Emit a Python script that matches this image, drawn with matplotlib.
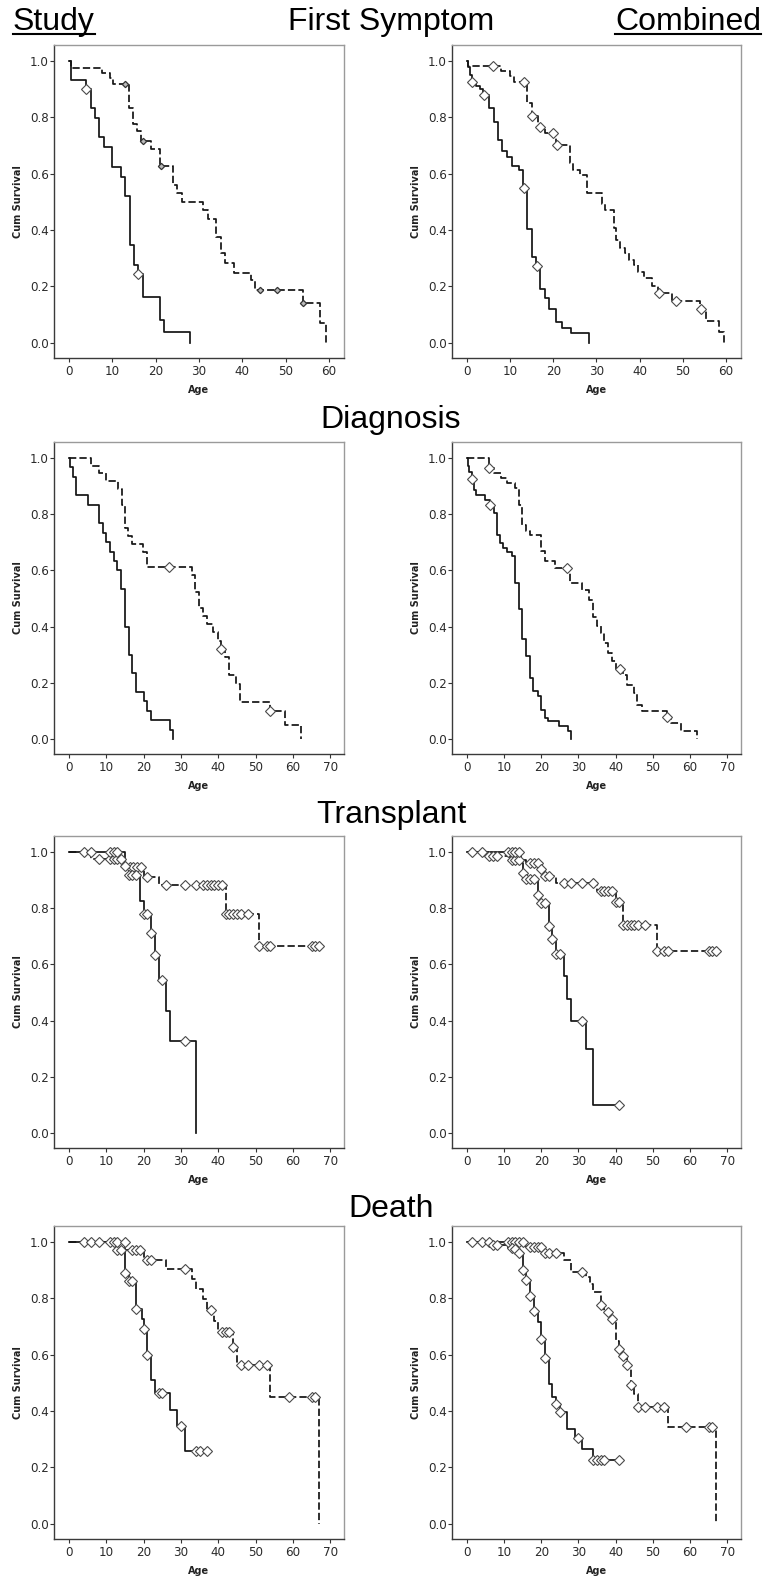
import numpy as np
import matplotlib
matplotlib.use('Agg')
import matplotlib.pyplot as plt
from matplotlib.lines import Line2D
from matplotlib.ticker import FormatStrFormatter

# ---------------- data (age, cumulative survival after step, censor ages) ----------------
# First Symptom - Study
fs_study_solid_t = [0.5, 4, 5, 6, 7, 8, 10, 12, 13, 14, 15, 16, 17, 21, 22, 28]
fs_study_solid_s = [0.933, 0.900, 0.833, 0.797, 0.730, 0.694, 0.623, 0.590, 0.520, 0.347,
                    0.277, 0.243, 0.162, 0.081, 0.040, 0.0]
fs_study_solid_c = [4, 16]
fs_study_dash_t = [0.5, 7.7, 9.5, 10.2, 13.9, 14.8, 15.6, 16.5, 19, 21, 24, 25, 26, 31, 32,
                   34, 35, 36, 38, 42, 43, 54, 58, 59.3]
fs_study_dash_s = [0.974, 0.958, 0.940, 0.917, 0.833, 0.778, 0.750, 0.716, 0.687, 0.628, 0.560,
                   0.530, 0.500, 0.470, 0.440, 0.377, 0.318, 0.283, 0.249, 0.223, 0.188, 0.141,
                   0.070, 0.0]
fs_study_dash_c = [12.9, 17, 21.2, 44, 48, 54]

# First Symptom - Combined
fs_comb_solid_t = [0.3, 0.7, 1.1, 2, 3, 3.8, 5, 6.2, 7.2, 8.2, 9.3, 10.3, 12, 13, 14, 15, 16,
                   17, 18, 19, 20.5, 22, 24, 28.2]
fs_comb_solid_s = [0.980, 0.950, 0.927, 0.910, 0.900, 0.880, 0.832, 0.785, 0.720, 0.679, 0.660,
                   0.629, 0.613, 0.548, 0.403, 0.306, 0.274, 0.190, 0.158, 0.120, 0.075, 0.052,
                   0.034, 0.0]
fs_comb_solid_c = [1.2, 3.9, 13.1, 16.1]
fs_comb_dash_t = [0.3, 7.8, 10, 10.8, 14, 15, 16.5, 18, 20.5, 23.8, 24.6, 26.2, 27.9, 31.2, 32,
                  34, 34.6, 35.5, 36.7, 37.5, 38.7, 39.7, 41, 42.9, 44.2, 47.5, 54, 55.3, 58.4,
                  59.5]
fs_comb_dash_s = [0.982, 0.965, 0.947, 0.924, 0.850, 0.806, 0.765, 0.746, 0.702, 0.637, 0.613,
                  0.596, 0.530, 0.493, 0.472, 0.407, 0.365, 0.336, 0.318, 0.294, 0.277, 0.253,
                  0.229, 0.200, 0.176, 0.150, 0.120, 0.076, 0.040, 0.0]
fs_comb_dash_c = [6, 13.1, 15, 16.8, 19.8, 20.9, 44.4, 48.4, 54.2]

# Diagnosis - Study
dx_study_solid_t = [0.3, 1, 2, 5, 8, 9, 10, 11, 12, 13, 14, 15, 16, 17, 18, 20, 21, 22, 27, 28]
dx_study_solid_s = [0.967, 0.933, 0.867, 0.833, 0.767, 0.733, 0.700, 0.667, 0.633, 0.600, 0.533,
                    0.400, 0.300, 0.233, 0.167, 0.133, 0.100, 0.067, 0.033, 0.0]
dx_study_solid_c = []
dx_study_dash_t = [5.8, 8.1, 9.9, 13.2, 14.1, 15, 15.9, 16.8, 19.9, 20.8, 32.9, 33.8, 34.9, 36,
                   36.9, 38.7, 40, 40.8, 41.8, 42.9, 44.7, 45.8, 53.9, 57.9, 62.2]
dx_study_dash_s = [0.972, 0.946, 0.918, 0.889, 0.833, 0.750, 0.722, 0.694, 0.667, 0.611, 0.582,
                   0.524, 0.466, 0.437, 0.408, 0.379, 0.350, 0.321, 0.292, 0.226, 0.194, 0.131,
                   0.098, 0.049, 0.0]
dx_study_dash_c = [26.9, 40.8, 53.9]

# Diagnosis - Combined
dx_comb_solid_t = [0.3, 0.7, 1.3, 2, 2.5, 4.9, 6.1, 7.2, 8.1, 9, 9.8, 10.9, 12.1, 13, 13.9, 14.8,
                   15.9, 17, 17.9, 19, 19.9, 21, 21.9, 24.9, 27.1, 28]
dx_comb_solid_s = [0.970, 0.950, 0.926, 0.887, 0.869, 0.852, 0.834, 0.804, 0.727, 0.697, 0.680,
                   0.664, 0.650, 0.555, 0.463, 0.356, 0.294, 0.217, 0.170, 0.152, 0.104, 0.075,
                   0.063, 0.045, 0.027, 0.0]
dx_comb_solid_c = [1.3, 6.1]
dx_comb_dash_t = [6, 7.2, 9.1, 10.9, 13, 13.9, 14.8, 15.9, 17, 19.9, 21, 23.7, 27.8, 31, 32.9,
                  34, 34.9, 36, 36.9, 38, 38.9, 40, 42, 43, 44.8, 45.8, 47, 53.8, 55, 57.7, 62]
dx_comb_dash_s = [0.964, 0.947, 0.930, 0.911, 0.893, 0.834, 0.763, 0.739, 0.727, 0.668, 0.632,
                  0.609, 0.555, 0.531, 0.496, 0.434, 0.401, 0.377, 0.342, 0.306, 0.277, 0.247,
                  0.229, 0.190, 0.164, 0.122, 0.098, 0.078, 0.057, 0.027, 0.0]
dx_comb_dash_c = [6, 26.9, 41.2, 53.9]

# Transplant - Study
tx_study_solid_t = [15, 16, 19, 20, 22, 23, 24, 26, 27, 34]
tx_study_solid_s = [0.950, 0.917, 0.825, 0.778, 0.713, 0.635, 0.544, 0.435, 0.326, 0.0]
tx_study_solid_c = [4, 6, 11, 12, 13, 15, 16, 17, 18, 20, 21, 22, 23, 25, 31]
tx_study_dash_t = [6, 15, 20, 24, 42, 51]
tx_study_dash_s = [0.976, 0.947, 0.910, 0.882, 0.778, 0.665]
tx_study_dash_c = [8, 11, 12, 13, 14, 16.3, 17.3, 18.3, 19.2, 21, 26, 31, 34, 36, 37, 38, 39,
                   40, 41, 42, 43, 44, 45, 46, 48, 51, 53, 54, 65, 66, 67]

# Transplant - Combined
tx_comb_solid_t = [14.6, 15, 16, 19, 20, 22, 23, 24, 26, 27, 28, 32, 34]
tx_comb_solid_s = [0.960, 0.925, 0.903, 0.846, 0.818, 0.736, 0.690, 0.637, 0.560, 0.477, 0.400,
                   0.298, 0.100]
tx_comb_solid_c = [11, 12, 13, 14, 15, 16, 17, 18, 19, 20, 21, 22, 23, 24, 25, 31, 41]
tx_comb_dash_t = [6, 11.5, 16, 20, 21, 24, 35, 40, 42, 51]
tx_comb_dash_s = [0.985, 0.972, 0.962, 0.938, 0.914, 0.890, 0.862, 0.823, 0.740, 0.648]
tx_comb_dash_c = [1.3, 4, 6, 7, 8, 12, 13, 14, 17, 18, 19, 20, 21, 22, 26, 28, 31, 34, 36, 37,
                  38, 39, 40, 41, 42, 43, 44, 45, 46, 48, 51, 53, 54, 65, 66, 67]

# Death - Study
dth_study_solid_t = [15, 16, 18, 19.5, 20, 21, 22, 23, 27, 29, 31]
dth_study_solid_s = [0.889, 0.862, 0.762, 0.726, 0.690, 0.600, 0.510, 0.464, 0.404, 0.346, 0.260]
dth_study_solid_c = [4, 6, 8, 11, 12, 13, 14.9, 15, 16, 17, 18, 20, 21, 24, 25, 30, 34, 35, 37]
dth_study_dash_t = [12.5, 20, 26, 33, 34, 36, 37, 39, 40, 44, 45, 54, 67]
dth_study_dash_s = [0.972, 0.936, 0.905, 0.870, 0.832, 0.797, 0.759, 0.720, 0.682, 0.628, 0.564,
                    0.449, 0.0]
dth_study_dash_c = [13, 14, 17, 18, 19, 21, 22, 31, 38, 41, 42, 43, 44, 46, 48, 51, 53, 59, 65, 66]

# Death - Combined
dth_comb_solid_t = [7, 11, 13, 14, 15, 16, 17, 18, 19, 20, 21, 22, 23, 24, 25, 27, 29, 31, 34]
dth_comb_solid_s = [0.988, 0.980, 0.975, 0.960, 0.900, 0.864, 0.810, 0.755, 0.716, 0.657, 0.590,
                    0.497, 0.450, 0.426, 0.396, 0.337, 0.305, 0.266, 0.227]
dth_comb_solid_c = [7, 8, 12, 13, 14, 15, 16, 17, 18, 20, 21, 24, 25, 30, 34, 35, 36, 37, 41]
dth_comb_dash_t = [16, 21, 26, 28, 32, 33, 34, 36, 37, 39, 40, 41, 42, 43, 44, 45, 46, 54, 67]
dth_comb_dash_s = [0.982, 0.962, 0.935, 0.893, 0.876, 0.852, 0.822, 0.775, 0.751, 0.728, 0.650,
                   0.621, 0.595, 0.562, 0.491, 0.460, 0.414, 0.343, 0.0]
dth_comb_dash_c = [1.3, 4, 6, 11, 12, 13, 14, 15, 17, 18, 19, 20, 21, 22, 24, 31, 36, 38, 39, 41,
                   42, 43, 44, 46, 48, 51, 53, 59, 65, 66]

section_titles = ["First Symptom", "Diagnosis", "Transplant", "Death"]
column_titles = ["Study", "Combined"]
y_label = "Cum Survival"
x_label = "Age"

# ---------------- layout ----------------
W, H = 767, 1576
fig = plt.figure(figsize=(W / 100, H / 100), dpi=100)
fig.patch.set_facecolor('white')


def rect(l, t, r, b):
    return [l / W, 1 - b / H, (r - l) / W, (b - t) / H]


rows = [(45, 358), (442, 754), (836, 1148), (1226, 1539)]
cols = [(54, 344), (452, 741)]


def km(ax, times, surv, cens, dashed, small=False):
    t = np.asarray(times, float)
    s = np.asarray(surv, float)
    c = np.asarray(cens, float)
    end = max(t.max(), c.max() if len(c) else 0)
    x = np.concatenate([[0.0], t, [end]])
    y = np.concatenate([[1.0], s, [s[-1]]])
    ls = (0, (4.2, 1.8)) if dashed else '-'
    ax.step(x, y, where='post', color='#151515', lw=1.25, linestyle=ls, zorder=2)
    if len(c):
        idx = np.searchsorted(t, c, side='right')
        yc = np.concatenate([[1.0], s])[idx]
        if small:
            ax.plot(c, yc, 'D', ms=3.2, mfc='#bbbbbb', mec='#333333', mew=0.9,
                    ls='none', zorder=3)
        else:
            ax.plot(c, yc, 'D', ms=5.0, mfc='white', mec='#4a4a4a', mew=0.8,
                    ls='none', zorder=3)


def style(ax, xmax_tick, xlim):
    ax.set_xlim(*xlim)
    ax.set_ylim(-0.054, 1.057)
    ax.set_xticks(np.arange(0, xmax_tick + 1, 10))
    ax.set_yticks(np.arange(0, 1.01, 0.2))
    ax.yaxis.set_major_formatter(FormatStrFormatter('%.1f'))
    ax.tick_params(direction='out', length=3, width=0.8, color='#333333',
                   labelsize=8.6, labelcolor='#2a2a2a')
    ax.tick_params(axis='y', pad=0.8)
    ax.tick_params(axis='x', pad=2.0)
    for sp in ['left', 'bottom']:
        ax.spines[sp].set_color('#3a3a3a')
        ax.spines[sp].set_linewidth(1.0)
    for sp in ['top', 'right']:
        ax.spines[sp].set_color('#9a9a9a')
        ax.spines[sp].set_linewidth(1.0)
    ax.set_ylabel(y_label, fontsize=7, fontweight='bold', color='#222222')
    ax.yaxis.set_label_coords(-31 / 290, 0.5)
    ax.set_xlabel(x_label, fontsize=7, fontweight='bold', color='#222222')
    ax.xaxis.set_label_coords(0.5, -27 / 313)


panels = [
    [(fs_study_solid_t, fs_study_solid_s, fs_study_solid_c,
      fs_study_dash_t, fs_study_dash_s, fs_study_dash_c, True),
     (fs_comb_solid_t, fs_comb_solid_s, fs_comb_solid_c,
      fs_comb_dash_t, fs_comb_dash_s, fs_comb_dash_c, False)],
    [(dx_study_solid_t, dx_study_solid_s, dx_study_solid_c,
      dx_study_dash_t, dx_study_dash_s, dx_study_dash_c, False),
     (dx_comb_solid_t, dx_comb_solid_s, dx_comb_solid_c,
      dx_comb_dash_t, dx_comb_dash_s, dx_comb_dash_c, False)],
    [(tx_study_solid_t, tx_study_solid_s, tx_study_solid_c,
      tx_study_dash_t, tx_study_dash_s, tx_study_dash_c, False),
     (tx_comb_solid_t, tx_comb_solid_s, tx_comb_solid_c,
      tx_comb_dash_t, tx_comb_dash_s, tx_comb_dash_c, False)],
    [(dth_study_solid_t, dth_study_solid_s, dth_study_solid_c,
      dth_study_dash_t, dth_study_dash_s, dth_study_dash_c, False),
     (dth_comb_solid_t, dth_comb_solid_s, dth_comb_solid_c,
      dth_comb_dash_t, dth_comb_dash_s, dth_comb_dash_c, False)],
]

for ri, (top, bot) in enumerate(rows):
    for ci, (l, r) in enumerate(cols):
        ax = fig.add_axes(rect(l, top, r, bot))
        st, ss, sc, dt, ds, dc, small = panels[ri][ci]
        km(ax, dt, ds, dc, dashed=True, small=small)
        km(ax, st, ss, sc, dashed=False)
        if ri == 0:
            style(ax, 60, (-3.5, 63.5))
        else:
            style(ax, 70, (-4.0, 73.7))

# ---------------- titles ----------------
title_font = dict(family='Liberation Sans', fontsize=23, color='black')
title_baselines = [30, 428, 823, 1217]
for name, yb in zip(section_titles, title_baselines):
    fig.text(391 / W, 1 - yb / H, name, ha='center', va='baseline', **title_font)

t_study = fig.text(13 / W, 1 - 30 / H, column_titles[0], ha='left', va='baseline', **title_font)
t_comb = fig.text(761 / W, 1 - 30 / H, column_titles[1], ha='right', va='baseline', **title_font)

renderer = fig.canvas.get_renderer()
for tt in (t_study, t_comb):
    bb = tt.get_window_extent(renderer)
    yline = 1 - 34 / H
    fig.add_artist(Line2D([bb.x0 / W, bb.x1 / W], [yline, yline], transform=fig.transFigure,
                          color='black', lw=1.5))

fig.savefig('out.png', dpi=100, facecolor='white')
